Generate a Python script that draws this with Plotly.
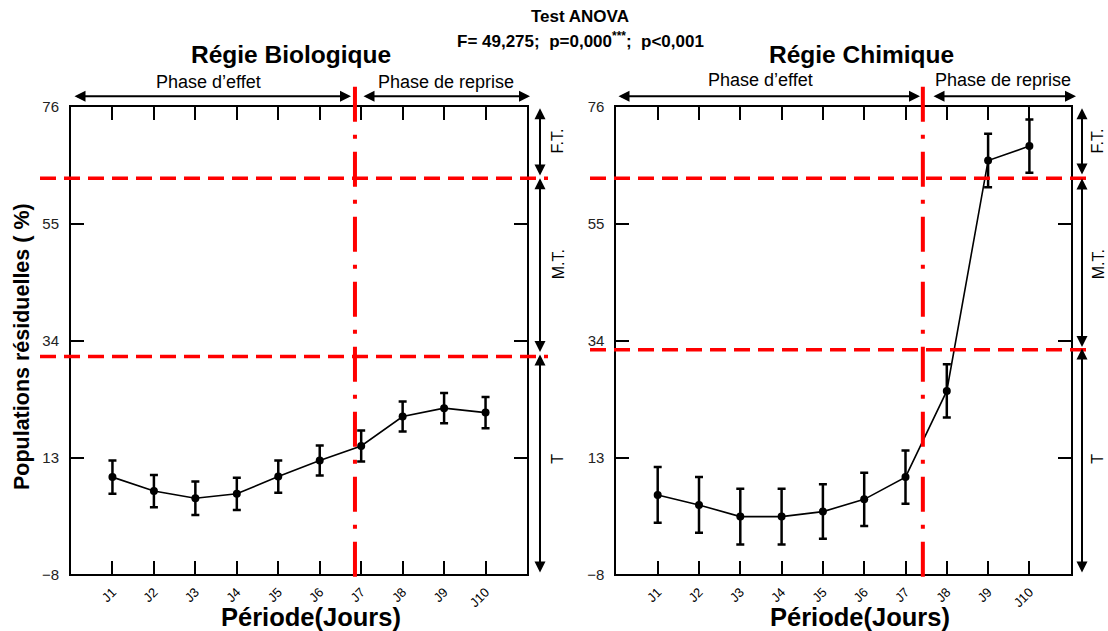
import plotly.graph_objects as go

# ---------------- data ----------------
days = ["J1", "J2", "J3", "J4", "J5", "J6", "J7", "J8", "J9", "J10"]
day_pos = [1, 2, 3, 4, 5, 6, 7, 8, 9, 10]
bio_mean = [9.5, 7.0, 5.7, 6.5, 9.6, 12.5, 15.1, 20.4, 21.9, 21.1]
bio_err = [3.0, 2.9, 3.0, 2.9, 2.9, 2.7, 2.8, 2.7, 2.7, 2.8]
chem_mean = [6.3, 4.5, 2.4, 2.4, 3.3, 5.5, 9.5, 25.0, 66.4, 69.0]
chem_err = [5.0, 5.0, 5.0, 5.0, 4.9, 4.8, 4.8, 4.8, 4.8, 4.8]
y_ticks = [-8, 13, 34, 55, 76]
bio_thresholds = [31.2, 63.2]
chem_thresholds = [32.4, 63.2]
bio_phase_split = 6.85
chem_phase_split = 7.42

W, H = 1108, 631
FONT = "Liberation Sans, Arial, sans-serif"
# observed vertical mapping of the capture: shot_y = VS * page_y + VOFF
VS, VOFF = 0.9755, 7.1


def fx(px):
    return px / W


def cy(py):
    return (py - VOFF) / VS


def fy(py):
    return 1 - cy(py) / H


def vlen(d):
    return d / VS


fig = go.Figure()

for mean, err, xa, ya in [(bio_mean, bio_err, "x", "y"), (chem_mean, chem_err, "x2", "y2")]:
    fig.add_trace(go.Scatter(
        x=day_pos, y=mean, xaxis=xa, yaxis=ya, mode="lines+markers",
        line=dict(color="black", width=1.6),
        marker=dict(color="black", size=8),
        error_y=dict(type="data", array=err, visible=True, color="black", thickness=2.5, width=4),
        showlegend=False, hoverinfo="skip"))

axis_common = dict(showline=True, linecolor="black", linewidth=2, mirror="ticks",
                   ticks="inside", ticklen=13, tickwidth=1.5, tickcolor="black",
                   showgrid=False, zeroline=False)
xcommon = dict(axis_common, range=[0, 11], tickvals=day_pos, ticktext=days, tickangle=-45,
               ticklabelstandoff=3,
               tickfont=dict(size=13, color="black", family=FONT))
ycommon = dict(axis_common, range=[-8, 76], tickvals=y_ticks, ticklabelstandoff=7,
               tickfont=dict(size=15, color="#222", family=FONT))
ydom = [fy(574), fy(105.5)]

fig.update_layout(
    width=W, height=H, margin=dict(l=0, r=0, t=0, b=0),
    paper_bgcolor="white", plot_bgcolor="white",
    font=dict(family=FONT, color="black"),
    xaxis=dict(xcommon, domain=[fx(71), fx(527)], anchor="y"),
    yaxis=dict(ycommon, domain=ydom, anchor="x"),
    xaxis2=dict(xcommon, domain=[fx(616.4), fx(1070.7)], anchor="y2"),
    yaxis2=dict(ycommon, domain=ydom, anchor="x2"),
)

shapes = []
for thr, yref, x0, x1 in [(bio_thresholds, "y", 40, 548), (chem_thresholds, "y2", 590, 1092)]:
    for t in thr:
        shapes.append(dict(type="line", xref="paper", yref=yref, x0=fx(x0), x1=fx(x1), y0=t, y1=t,
                           line=dict(color="red", width=3.5, dash="16px,8px")))
for xs, xref in [(bio_phase_split, "x"), (chem_phase_split, "x2")]:
    shapes.append(dict(type="line", xref=xref, yref="paper", x0=xs, x1=xs, y0=fy(85), y1=fy(588),
                       line=dict(color="red", width=4, dash="35px,13px,4px,13px")))
fig.update_layout(shapes=shapes)

ann = []


def text(px, py, s, size, bold=False, angle=0):
    ann.append(dict(xref="paper", yref="paper", x=fx(px), y=fy(py), text=f"<b>{s}</b>" if bold else s,
                    showarrow=False, xanchor="center", yanchor="middle", textangle=angle,
                    font=dict(size=size, color="black", family=FONT)))


def harrow(x0, x1, py):
    ann.append(dict(xref="paper", yref="paper", x=fx(x1), y=fy(py), ax=-(x1 - x0), ay=0,
                    axref="pixel", ayref="pixel", text="", showarrow=True,
                    arrowhead=2, arrowside="end+start", arrowsize=1.1, arrowwidth=2, arrowcolor="black"))


def varrow(px, top, bottom):
    ann.append(dict(xref="paper", yref="paper", x=fx(px), y=fy(bottom), ax=0, ay=vlen(top - bottom),
                    axref="pixel", ayref="pixel", text="", showarrow=True,
                    arrowhead=2, arrowside="end+start", arrowsize=1.1, arrowwidth=2, arrowcolor="black"))


text(580, 15, "Test ANOVA", 17, bold=True)
text(580, 38, "F= 49,275;  p=0,000<sup>***</sup>;  p&lt;0,001", 17, bold=True)
text(291, 53, "Régie Biologique", 24.5, bold=True)
text(861, 53, "Régie Chimique", 24.5, bold=True)
text(208, 80, "Phase d’effet", 18)
text(446, 80, "Phase de reprise", 18)
text(760, 78, "Phase d’effet", 18)
text(1003, 78, "Phase de reprise", 18)
harrow(73, 351, 94.5)
harrow(362, 530, 94.5)
harrow(617, 920, 94.5)
harrow(932, 1076, 94.5)

for px, tpx, segs in [(540, 558, [(107, 174), (180, 351), (358, 572)]),
                      (1082, 1098, [(107, 173), (180, 346), (352, 572)])]:
    for (a, b) in segs:
        varrow(px, a, b)
    text(tpx, 140, "F.T.", 16, angle=-90)
    text(tpx, 263, "M.T.", 16, angle=-90)
    text(tpx, 458, "T", 16, angle=-90)

text(22, 346, "Populations résiduelles ( %)", 21.5, bold=True, angle=-90)
text(311, 617, "Période(Jours)", 25.5, bold=True)
text(860, 617, "Période(Jours)", 25.5, bold=True)

fig.update_layout(annotations=ann)
fig.write_html(
    "out.html",
    config={"displayModeBar": False, "responsive": False},
    post_script=("document.documentElement.style.margin='0';document.body.style.margin='0';"
                 "document.documentElement.style.overflow='hidden';document.body.style.overflow='hidden';"
                 "var d=document.getElementById('{plot_id}');d.style.position='fixed';"
                 "d.style.top='0px';d.style.left='0px';"))
